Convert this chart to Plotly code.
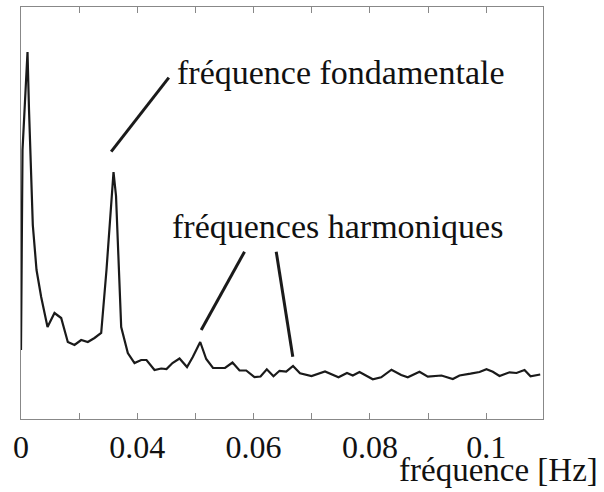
import plotly.graph_objects as go

# Spectrum (frequency in Hz, amplitude in arbitrary units)
freq = [0.02000, 0.02026, 0.02112, 0.02138, 0.02203, 0.02267, 0.02347, 0.02456,
        0.02576, 0.02691, 0.02805, 0.02920, 0.03035, 0.03149, 0.03264, 0.03379,
        0.03470, 0.03591, 0.03634, 0.03723, 0.03837, 0.03952, 0.04067, 0.04158,
        0.04296, 0.04411, 0.04502, 0.04605, 0.04726, 0.04855, 0.04954, 0.05082,
        0.05185, 0.05302, 0.05508, 0.05637, 0.05758, 0.05873, 0.06015, 0.06119,
        0.06227, 0.06342, 0.06445, 0.06561, 0.06678, 0.06798, 0.06996, 0.07228,
        0.07460, 0.07606, 0.07706, 0.07821, 0.08050, 0.08194, 0.08371, 0.08538,
        0.08652, 0.08853, 0.08996, 0.09231, 0.09426, 0.09541, 0.09730, 0.09885,
        0.10005, 0.10114, 0.10229, 0.10401, 0.10521, 0.10659, 0.10762, 0.10929]
amplitude = [69, 269, 367, 309, 194, 149, 122, 92,
             106, 101, 77, 74, 79, 77, 81, 86,
             149, 247, 223, 92, 66, 56, 59, 59,
             49, 50.5, 50, 56, 60.5, 52, 62, 77,
             60, 51, 51, 56.5, 48.5, 48.5, 42, 42.5,
             49.7, 42.7, 48.2, 47.3, 53, 45.7, 43, 47.5,
             41.7, 46, 43.5, 47, 39.7, 41.7, 49.3, 44,
             41.7, 47.3, 42.3, 43.5, 40, 43.5, 45.3, 47,
             49.7, 47.3, 43, 46.7, 46, 49, 42.7, 44.5]

tick_vals = [0.02, 0.03, 0.04, 0.05, 0.06, 0.07, 0.08, 0.09, 0.10]
tick_text = ["0", "", "0.04", "", "0.06", "", "0.08", "", "0.1"]

label_fond = "fréquence fondamentale"
label_harm = "fréquences harmoniques"
x_title = "fréquence [Hz]"

# pointer lines: (x0, y0, x1, y1) in data units
pointers = [
    (0.03551, 267.3, 0.04542, 341.3),
    (0.05099, 89.0, 0.05844, 167.3),
    (0.06674, 62.3, 0.06389, 167.3),
]

FONT = "Liberation Serif"

fig = go.Figure()
fig.add_trace(go.Scatter(x=freq, y=amplitude, mode="lines",
                         line=dict(color="#1a1a1a", width=2.2),
                         hoverinfo="skip", showlegend=False))

for x0, y0, x1, y1 in pointers:
    fig.add_shape(type="line", xref="x", yref="y", x0=x0, y0=y0, x1=x1, y1=y1,
                  line=dict(color="#1a1a1a", width=3))

fig.add_annotation(x=0.04640, y=347, xref="x", yref="y", text=label_fond,
                   showarrow=False, xanchor="left", yanchor="middle",
                   font=dict(family=FONT, size=34, color="#111"))
fig.add_annotation(x=0.04554, y=193, xref="x", yref="y", text=label_harm,
                   showarrow=False, xanchor="left", yanchor="middle",
                   font=dict(family=FONT, size=34, color="#111"))
fig.add_annotation(x=(600 - 21) / 522, y=(419 - 470) / 412, xref="paper", yref="paper",
                   text=x_title, showarrow=False, xanchor="right", yanchor="middle",
                   font=dict(family=FONT, size=33, color="#111"))

fig.update_layout(
    width=604, height=492,
    margin=dict(l=21, r=61, t=7, b=73, autoexpand=False),
    paper_bgcolor="white", plot_bgcolor="white",
    font=dict(family=FONT, size=32, color="#111"),
    xaxis=dict(range=[0.02, 0.02 + 522 / 5815], tickvals=tick_vals, ticktext=tick_text,
               ticks="inside", ticklen=6, tickcolor="#888", tickwidth=1,
               showline=True, linecolor="#888", linewidth=1, mirror="ticks",
               showgrid=False, zeroline=False, automargin=False,
               tickfont=dict(family=FONT, size=32, color="#111")),
    yaxis=dict(range=[0, 412], showticklabels=False, ticks="",
               showline=True, linecolor="#888", linewidth=1, mirror=True,
               showgrid=False, zeroline=False, automargin=False),
)

fig.write_html("out.html", config={"displayModeBar": False},
               post_script="document.body.style.margin='0';")
